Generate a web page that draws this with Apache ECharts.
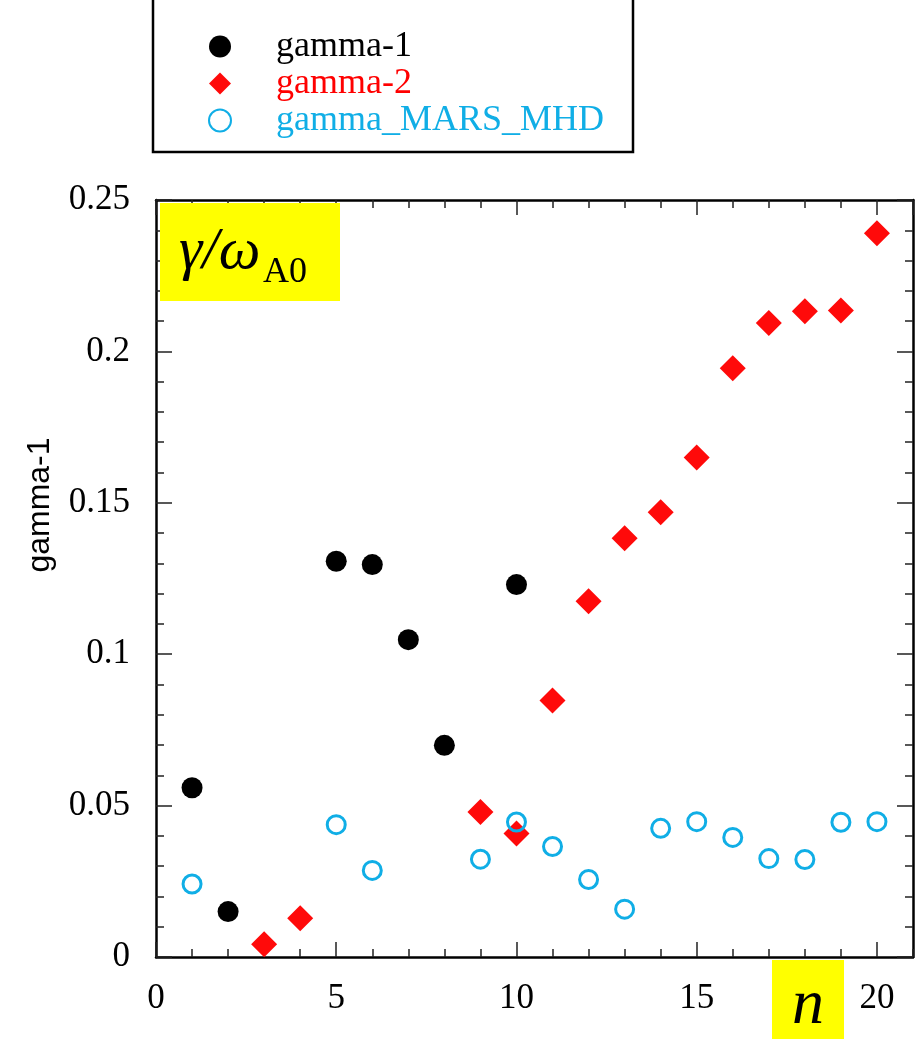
<!DOCTYPE html>
<html>
<head>
<meta charset="utf-8">
<script src="https://cdn.jsdelivr.net/npm/echarts@6/dist/echarts.min.js"></script>
<style>
html,body{margin:0;padding:0;background:#fff;}
#chart{width:916px;height:1039px;}
</style>
</head>
<body>
<div id="chart"></div>
<script>
// ---- data ----
const seriesNames = ['gamma-1', 'gamma-2', 'gamma_MARS_MHD'];
const gamma1N = [1, 2, 5, 6, 7, 8, 10];
const gamma1 = [0.0559, 0.0150, 0.1307, 0.1296, 0.1048, 0.0699, 0.1230];
const gamma2N = [3, 4, 9, 10, 11, 12, 13, 14, 15, 16, 17, 18, 19, 20];
const gamma2 = [0.0042, 0.0128, 0.0479, 0.0408, 0.0847, 0.1175, 0.1383, 0.1469, 0.1650, 0.1944, 0.2094, 0.2133, 0.2135, 0.2390];
const marsN = [1, 5, 6, 9, 10, 11, 12, 13, 14, 15, 16, 17, 18, 19, 20];
const mars = [0.0241, 0.0437, 0.0286, 0.0323, 0.0446, 0.0365, 0.0256, 0.0158, 0.0425, 0.0447, 0.0395, 0.0325, 0.0322, 0.0445, 0.0447];
const yAxisTitle = 'gamma-1';
const xAxisTitle = 'n';
const panelLabelMain = 'γ/ω';
const panelLabelSub = 'A0';

const pairs = (xs, ys) => xs.map((x, i) => [x, ys[i]]);

const SERIF = '"Liberation Serif", "Times New Roman", serif';
const SANS = '"Liberation Sans", Arial, sans-serif';
const TICK = '#222';

function xAxisDef(pos, interval, len, withLine, withLabel) {
  return {
    type: 'value', position: pos, min: 0, max: 21, interval: interval,
    axisLine: {show: withLine, onZero: false, lineStyle: {color: '#000', width: 2.5}},
    axisTick: {show: true, inside: true, length: len, lineStyle: {color: TICK, width: 1.5}},
    axisLabel: withLabel ? {
      show: true, fontFamily: SERIF, fontSize: 35, color: '#000', margin: 24,
      showMaxLabel: false, hideOverlap: false
    } : {show: false},
    splitLine: {show: false}
  };
}
function yAxisDef(pos, withLabel) {
  return {
    type: 'value', position: pos, min: 0, max: 0.25, interval: 0.05,
    axisLine: {show: true, onZero: false, lineStyle: {color: '#000', width: 2.5}},
    axisTick: {show: true, inside: true, length: 16, lineStyle: {color: TICK, width: 1.5}},
    minorTick: {show: true, splitNumber: 5, length: 8, lineStyle: {color: TICK, width: 1.5}},
    axisLabel: withLabel ? {
      show: true, fontFamily: SERIF, fontSize: 35, color: '#000', margin: 26,
      formatter: v => String(+v.toFixed(2))
    } : {show: false},
    splitLine: {show: false}, minorSplitLine: {show: false}
  };
}

const chart = echarts.init(document.getElementById('chart'), null, {renderer: 'canvas'});
chart.setOption({
  backgroundColor: '#fff',
  animation: false,
  grid: {left: 156, right: 3, top: 200, bottom: 82, containLabel: false},
  xAxis: [
    xAxisDef('bottom', 5, 15, true, true),
    xAxisDef('bottom', 1, 8, false, false),
    xAxisDef('top', 5, 15, true, false),
    xAxisDef('top', 1, 8, false, false)
  ],
  yAxis: [yAxisDef('left', true), yAxisDef('right', false)],
  legend: {
    orient: 'vertical', left: 203, top: 23,
    itemWidth: 22, itemHeight: 22, itemGap: 0,
    textStyle: {fontFamily: SERIF, fontSize: 36, lineHeight: 37, padding: [0, 0, 0, 40]},
    data: [
      {name: seriesNames[0], textStyle: {color: '#000'}},
      {name: seriesNames[1], textStyle: {color: '#ff0000'}},
      {name: seriesNames[2], textStyle: {color: '#10aee6'}}
    ]
  },
  series: [
    {name: seriesNames[0], type: 'scatter', symbol: 'circle', symbolSize: 21,
     itemStyle: {color: '#000', opacity: 1}, data: pairs(gamma1N, gamma1)},
    {name: seriesNames[1], type: 'scatter', symbol: 'diamond', symbolSize: 26,
     itemStyle: {color: '#ff0a0a', opacity: 1}, data: pairs(gamma2N, gamma2)},
    {name: seriesNames[2], type: 'scatter', symbol: 'circle', symbolSize: 18,
     itemStyle: {color: 'rgba(0,0,0,0)', borderColor: '#10aee6', borderWidth: 3, opacity: 1},
     data: pairs(marsN, mars)}
  ],
  graphic: [
    {type: 'rect', shape: {x: 153, y: -10, width: 480, height: 162},
     style: {fill: 'none', stroke: '#000', lineWidth: 2.5}, z: 10},
    {type: 'rect', shape: {x: 160, y: 203, width: 180, height: 98},
     style: {fill: '#ffff00'}, z: 5},
    {type: 'text', x: 179, y: 252, z: 6,
     style: {text: panelLabelMain, fontFamily: SERIF, fontStyle: 'italic', fontSize: 59,
             fill: '#000', verticalAlign: 'middle'}},
    {type: 'text', x: 263, y: 273, z: 6,
     style: {text: panelLabelSub, fontFamily: SERIF, fontSize: 36,
             fill: '#000', verticalAlign: 'middle'}},
    {type: 'rect', shape: {x: 772, y: 960, width: 72, height: 79},
     style: {fill: '#ffff00'}, z: 5},
    {type: 'text', x: 808, y: 1006, z: 6,
     style: {text: xAxisTitle, fontFamily: SERIF, fontStyle: 'italic', fontSize: 64,
             fill: '#000', align: 'center', verticalAlign: 'middle'}},
    {type: 'text', x: 40, y: 505, rotation: Math.PI / 2, z: 6,
     style: {text: yAxisTitle, fontFamily: SANS, fontSize: 32, fill: '#000',
             align: 'center', verticalAlign: 'middle'}}
  ]
});
</script>
</body>
</html>
